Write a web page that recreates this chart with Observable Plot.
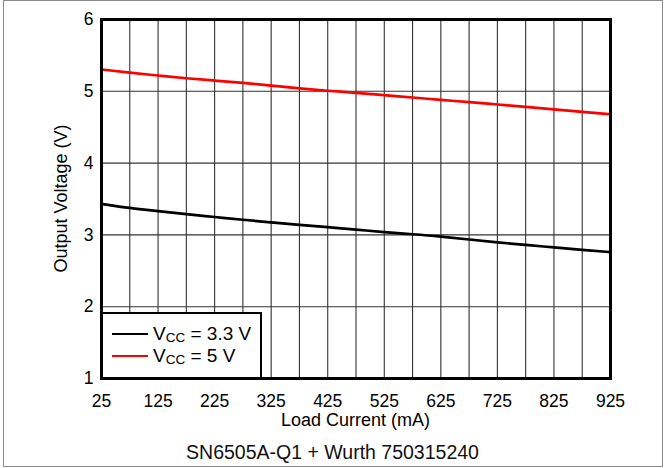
<!DOCTYPE html>
<html>
<head>
<meta charset="utf-8">
<script src="https://cdn.jsdelivr.net/npm/d3@7"></script>
<script src="https://cdn.jsdelivr.net/npm/@observablehq/plot@0.6"></script>
<style>
  html, body { margin: 0; padding: 0; background: #fff; }
  body { width: 665px; height: 468px; position: relative; overflow: hidden; font-family: "Liberation Sans", Arial, sans-serif; }
  #border { position: absolute; left: 3px; top: 0px; width: 658px; height: 465px; border: 1px solid #8a8a8a; }
  #chart { position: absolute; left: 0; top: 0; }
  #chart g[aria-label="x-axis tick label"] text, #chart g[aria-label="y-axis tick label"] text { font-size: 17.5px; }
  #caption { position: absolute; left: 0; width: 665px; top: 441px; line-height: 22px; text-align: center; font-size: 19.5px; color: #111; }
  #legend { position: absolute; left: 101px; top: 312px; width: 157px; height: 63px; border: 2.5px solid #000; background: #fff; }
  .row { position: absolute; left: 0; height: 22px; font-size: 19px; color: #000; white-space: nowrap; }
  .row .sw { position: absolute; left: 9px; top: 10px; width: 36px; height: 0; border-top: 2.5px solid #000; }
  .row .lab { position: absolute; left: 50px; top: 0; line-height: 22px; }
  .row sub { font-size: 13.5px; vertical-align: -2px; }
</style>
</head>
<body>
<div id="border"></div>
<div id="chart"></div>
<div id="legend"></div>
<div id="caption"></div>
<script>
// Data
const loadCurrent = [25, 75, 125, 175, 225, 275, 325, 375, 425, 475, 525, 575, 625, 675, 725, 775, 825, 875, 925];
const vcc33 = [3.433, 3.372, 3.33, 3.288, 3.25, 3.21, 3.175, 3.14, 3.107, 3.075, 3.038, 3.01, 2.978, 2.936, 2.894, 2.862, 2.825, 2.79, 2.76];
const vcc5  = [5.304, 5.258, 5.22, 5.18, 5.15, 5.118, 5.08, 5.04, 5.007, 4.98, 4.946, 4.914, 4.88, 4.85, 4.816, 4.784, 4.747, 4.714, 4.68];
const xTicks = [25, 125, 225, 325, 425, 525, 625, 725, 825, 925];
const xGrid = [75, 125, 175, 225, 275, 325, 375, 425, 475, 525, 575, 625, 675, 725, 775, 825, 875];
const yTicks = [1, 2, 3, 4, 5, 6];
const yGrid = [2, 3, 4, 5];
const seriesNames = ["3.3 V", "5 V"];
const seriesColors = ["#000000", "#ff0000"];
const xLabel = "Load Current (mA)";
const yLabel = "Output Voltage (V)";
const caption = "SN6505A-Q1 + Wurth 750315240";

const rows = [];
loadCurrent.forEach((x, i) => {
  rows.push({x, y: vcc33[i], s: seriesNames[0]});
  rows.push({x, y: vcc5[i], s: seriesNames[1]});
});

const W = 665, H = 432, mL = 101, mR = 55, mT = 19, mB = 54;
const plot = Plot.plot({
  width: W,
  height: H,
  marginLeft: mL,
  marginRight: mR,
  marginTop: mT,
  marginBottom: mB,
  style: {fontFamily: "Liberation Sans, Arial, sans-serif", fontSize: "17.5px", color: "#000", background: "transparent"},
  x: {domain: [25, 925]},
  y: {domain: [1, 6]},
  color: {domain: seriesNames, range: seriesColors},
  marks: [
    Plot.ruleX(xGrid, {stroke: "#333", strokeWidth: 1.1}),
    Plot.ruleY(yGrid, {stroke: "#333", strokeWidth: 1.1}),
    Plot.line(rows, {x: "x", y: "y", stroke: "s", z: "s", strokeWidth: 2.7, curve: "basis"}),
    Plot.axisX(xTicks, {tickSize: 0, tickPadding: 16, tickFormat: d => String(d), label: null}),
    Plot.axisY(yTicks, {tickSize: 0, tickPadding: 8, tickFormat: d => String(d), label: null}),
    Plot.frame({stroke: "#000", strokeWidth: 3})
  ]
});

// Axis titles placed relative to the plot frame
const svg = d3.select(plot);
const cx = mL + (W - mL - mR) / 2;
const cy = mT + (H - mT - mB) / 2;
svg.append("text")
  .attr("x", cx).attr("y", H - mB + 42)
  .attr("text-anchor", "middle").attr("dominant-baseline", "central")
  .attr("font-size", 18).attr("fill", "#000")
  .text(xLabel);
svg.append("text")
  .attr("transform", `translate(${mL - 40},${cy}) rotate(-90)`)
  .attr("text-anchor", "middle").attr("dominant-baseline", "central")
  .attr("font-size", 18).attr("fill", "#000")
  .text(yLabel);

document.getElementById("chart").appendChild(plot);

const legend = document.getElementById("legend");
seriesNames.forEach((n, i) => {
  const r = document.createElement("div");
  r.className = "row";
  r.style.top = (9 + i * 22) + "px";
  r.innerHTML = `<span class="sw" style="border-top-color:${seriesColors[i]}"></span><span class="lab">V<sub>CC</sub> = ${n}</span>`;
  legend.appendChild(r);
});
document.getElementById("caption").textContent = caption;
</script>
</body>
</html>
